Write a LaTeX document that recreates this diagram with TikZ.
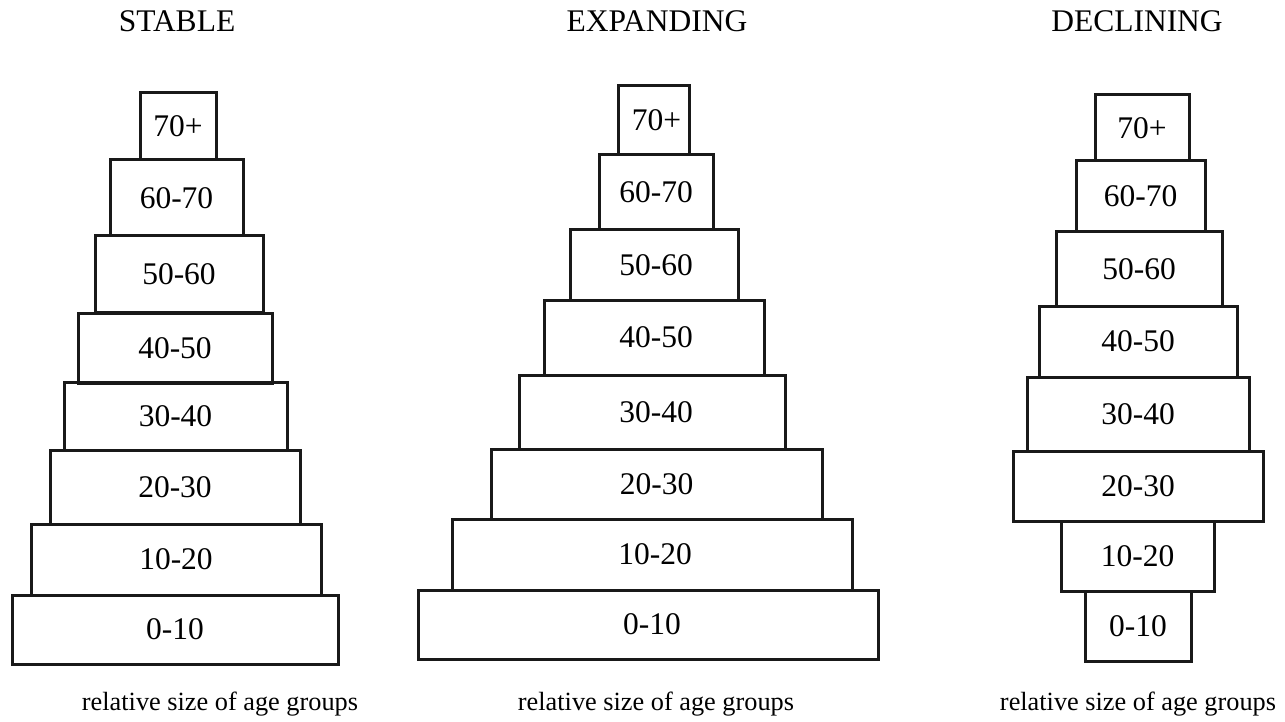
\documentclass[tikz,border=0pt]{standalone}
\usepackage{fontspec}
\setmainfont{Liberation Serif}
\begin{document}
\begin{tikzpicture}[x=1pt,y=-1pt,
  agebox/.style={draw=black!90,line width=3pt,inner sep=0pt,font=\fontsize{31.5}{36}\selectfont},
  ttl/.style={anchor=base,inner sep=0pt,font=\fontsize{31.5}{36}\selectfont},
  foot/.style={anchor=base,inner sep=0pt,font=\fontsize{26.3}{30}\selectfont}]
\useasboundingbox (0,0) rectangle (1285,722);
% titles
\node[ttl] (tS) at (177,32) {STABLE};
\node[ttl] (tE) at (657,32) {EXPANDING};
\node[ttl] (tD) at (1137,32) {DECLINING};
% stable
\node[agebox,minimum width=76,minimum height=67] (s70) at (178,126.5) {70+};
\node[agebox,minimum width=133,minimum height=76] (s60) at (176.5,198) {60-70};
\node[agebox,minimum width=168,minimum height=76] (s50) at (179,274) {50-60};
\node[agebox,minimum width=194,minimum height=70] (s40) at (175,348) {40-50};
\node[agebox,minimum width=223,minimum height=68] (s30) at (175.5,416) {30-40};
\node[agebox,minimum width=250,minimum height=74] (s20) at (175,487) {20-30};
\node[agebox,minimum width=290,minimum height=71] (s10) at (176,559.5) {10-20};
\node[agebox,minimum width=326,minimum height=69] (s0) at (175,629.5) {0-10};
% expanding
\node[agebox,minimum width=71,minimum height=69] (e70) at (653.5,120.5) {\hspace{6pt}70+};
\node[agebox,minimum width=114,minimum height=75] (e60) at (656,192.5) {60-70};
\node[agebox,minimum width=168,minimum height=70] (e50) at (654,265) {\hspace{4pt}50-60};
\node[agebox,minimum width=220,minimum height=75] (e40) at (654,337.5) {\hspace{4pt}40-50};
\node[agebox,minimum width=266,minimum height=74] (e30) at (652,412) {\hspace{8pt}30-40};
\node[agebox,minimum width=331,minimum height=70] (e20) at (656.5,484) {20-30};
\node[agebox,minimum width=400,minimum height=71] (e10) at (652,554.5) {\hspace{6pt}10-20};
\node[agebox,minimum width=460,minimum height=69] (e0) at (648,624.5) {\hspace{8pt}0-10};
% declining
\node[agebox,minimum width=94,minimum height=66] (d70) at (1142,128) {70+};
\node[agebox,minimum width=129,minimum height=71] (d60) at (1140.5,196.5) {60-70};
\node[agebox,minimum width=166,minimum height=74] (d50) at (1139,269) {50-60};
\node[agebox,minimum width=198,minimum height=71] (d40) at (1138,341.5) {40-50};
\node[agebox,minimum width=222,minimum height=74] (d30) at (1138,414) {30-40};
\node[agebox,minimum width=250,minimum height=70] (d20) at (1138,486) {20-30};
\node[agebox,minimum width=153,minimum height=70] (d10) at (1137.5,556) {10-20};
\node[agebox,minimum width=106,minimum height=70] (d0) at (1138,626) {0-10};
% footers
\node[foot] (fS) at (220,710) {relative size of age groups};
\node[foot] (fE) at (656,710) {relative size of age groups};
\node[foot] (fD) at (1138,710) {relative size of age groups};
\end{tikzpicture}
\end{document}
